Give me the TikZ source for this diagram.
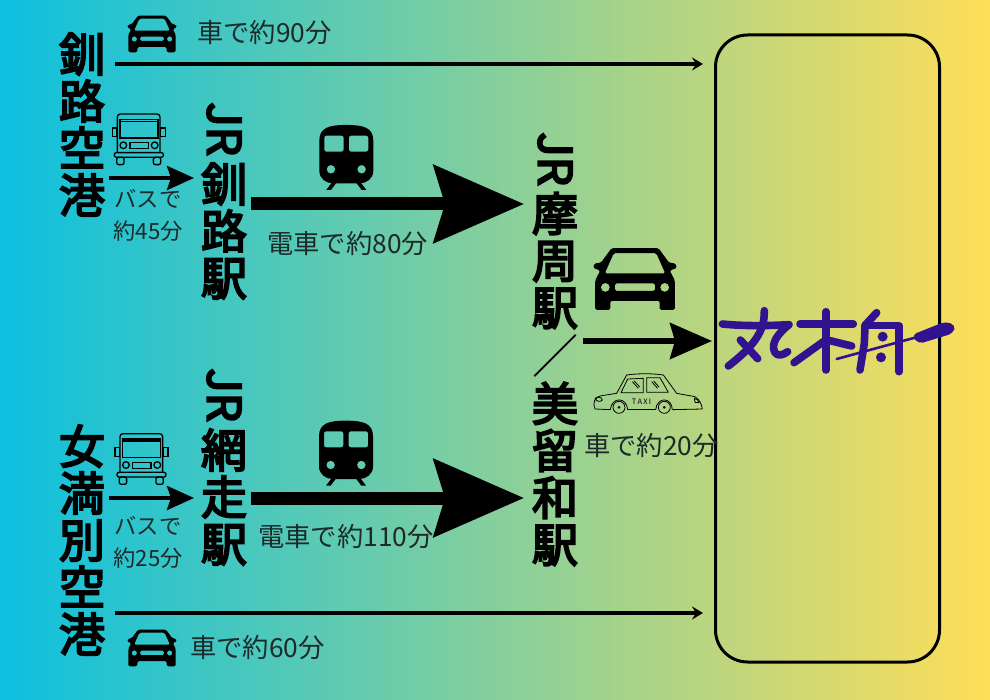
\documentclass[tikz,border=0pt]{standalone}
\usepackage{fontspec}
\usetikzlibrary{arrows.meta}
\newfontfamily\jp{Noto Sans CJK JP}
\newfontfamily\jpm[FakeBold=4.2]{Noto Sans CJK JP}
\definecolor{bgL}{HTML}{0CC0DF}
\definecolor{bgR}{HTML}{FFDE59}
\definecolor{logoc}{HTML}{31128F}
\definecolor{lighttext}{HTML}{1C2A2A}
\newcommand{\bigfont}{\jpm\fontsize{46}{47}\selectfont}
\tikzset{
  place/.style={font=\bigfont,align=center,inner sep=0pt,text=black},
  jrlabel/.style={font=\bigfont,rotate=-90,anchor=west,inner sep=0pt},
  lab/.style={font=\jp\fontsize{26.3}{30}\selectfont,inner sep=0pt,text=lighttext},
  smalllab/.style={font=\jp\fontsize{22.3}{31.5}\selectfont,inner sep=0pt,align=center,text=lighttext},
  longarrow/.style={line width=3.1pt,-{Stealth[length=11pt,width=13pt,inset=4pt]}},
  busarrow/.style={line width=3.8pt,-{Stealth[length=27pt,width=24pt,inset=4pt]}},
  midarrow/.style={line width=5.6pt,-{Stealth[length=42pt,width=36pt,inset=5pt]}},
  mainarrow/.style={line width=13pt,-{Stealth[length=90pt,width=77pt,inset=11pt]}},
  logostroke/.style={draw=logoc,line width=7.6pt,line cap=round,line join=round},
  car/.pic={
    \begin{scope}[scale=1/3]
    \fill[even odd rule,rounded corners=1.5pt]
      (-42,-55) -- (42,-55) -- (61,-29) -- (72,-28) -- (75,-20) -- (62,-15) -- (71,2) -- (71,55) -- (44,55) -- (44,39) -- (-44,39) -- (-44,55) -- (-71,55) -- (-71,2) -- (-62,-15) -- (-75,-20) -- (-72,-28) -- (-61,-29) -- cycle
      (-38,-46) -- (38,-46) -- (54,-10) -- (-54,-10) -- cycle
      (-36,8) rectangle (36,21)
      (-53,15) circle[radius=8] (53,15) circle[radius=8];
    \end{scope}
  },
  train/.pic={
    \begin{scope}[scale=1/3]
    \fill[even odd rule]
      (-81,-50) .. controls (-81,-90) and (-50,-97) .. (0,-97) .. controls (50,-97) and (81,-90) .. (81,-50) -- (81,40) .. controls (81,65) and (60,78) .. (40,78) -- (-40,78) .. controls (-60,78) and (-81,65) .. (-81,40) -- cycle
      [rounded corners=2pt] (-66,-65) rectangle (-8,-17)
      (8,-65) rectangle (66,-17)
      [sharp corners] (-46,36) circle[radius=13] (46,36) circle[radius=13];
    \fill (-42,74) -- (-60,98) -- (-46,98) -- (-28,74) -- cycle
          (42,74) -- (60,98) -- (46,98) -- (28,74) -- cycle;
    \end{scope}
  },
  bus/.pic={
    \begin{scope}[scale=1/3,line width=1.3pt]
    \draw[rounded corners=3pt] (-64,40) -- (-64,-76) -- (64,-76) -- (64,40);
    \draw (-56,-4) rectangle (58,-60);
    \draw (-56,-54) -- (58,-54);
    \draw (-79,-34) rectangle (-66,-8) (66,-34) rectangle (80,-8);
    \draw (-46,18) circle[radius=10] (48,18) circle[radius=10];
    \draw (-26,10) rectangle (29,28);
    \draw[rounded corners=2pt] (-73,40) rectangle (74,54);
    \draw[rounded corners=2pt] (-66,54) rectangle (-44,76) (44,54) rectangle (66,76);
    \end{scope}
  }
}
\begin{document}
\begin{tikzpicture}[x=1pt,y=-1pt]
\useasboundingbox (0,0) rectangle (990,700);
\shade[left color=bgL,right color=bgR] (0,0) rectangle (990,700);

% destination box
\node (goal) [draw,line width=3pt,rounded corners=32pt,minimum width=224pt,minimum height=627pt,inner sep=0pt] at (827.5,348.5) {};

% stations
\node (kushiroap) [place] at (82,124.5) {釧\\路\\空\\港};
\node (memanbetsu) [place] at (82,540) {女\\満\\別\\空\\港};
\node (jrk) [jrlabel] at (224,102) {JR};
\node (kushiro) [place] at (224,231) {釧\\路\\駅};
\node (jra) [jrlabel] at (224,368) {JR};
\node (abashiri) [place] at (224,497) {網\\走\\駅};
\node (jrm) [jrlabel] at (555,132) {JR};
\node (mashu) [place] at (555,260.5) {摩\\周\\駅};
\node (slash) [font=\jp\fontsize{46}{47}\selectfont,inner sep=0pt] at (555,356) {／};
\node (bihoro) [place] at (555,474) {美\\留\\和\\駅};

% connectors
\coordinate (a1) at (115,64); \coordinate (a2) at (703,64);
\coordinate (b1) at (115,613); \coordinate (b2) at (703,613);
\coordinate (c1) at (109,178); \coordinate (c2) at (194,178);
\coordinate (d1) at (109,498); \coordinate (d2) at (194,498);
\coordinate (e1) at (251,204); \coordinate (e2) at (524,204);
\coordinate (f1) at (251,498); \coordinate (f2) at (524,498);
\coordinate (g1) at (583,341); \coordinate (g2) at (712,341);
\draw[longarrow] (a1) -- (a2);
\draw[longarrow] (b1) -- (b2);
\draw[busarrow] (c1) -- (c2);
\draw[busarrow] (d1) -- (d2);
\draw[mainarrow] (e1) -- (e2);
\draw[mainarrow] (f1) -- (f2);
\draw[midarrow] (g1) -- (g2);

% labels
\node (l90) [lab,anchor=west] at (197,33) {車で約90分};
\node (l60) [lab,anchor=west] at (190,648) {車で約60分};
\node (l80) [lab,anchor=west] at (267,244) {電車で約80分};
\node (l110) [lab,anchor=west] at (258,537) {電車で約110分};
\node (l20) [lab,anchor=west] at (584,446) {車で約20分};
\node (l45) [smalllab] at (148,215.5) {バスで\\約45分};
\node (l25) [smalllab] at (148,542.5) {バスで\\約25分};

% icons
\pic at (152,34) {car};
\pic at (152,648) {car};
\pic[scale=1.68] at (635,279) {car};
\pic at (346.3,157.3) {train};
\pic at (346,453) {train};
\pic at (138.7,139.3) {bus};
\pic at (141.3,459) {bus};

% taxi
\begin{scope}[shift={(585,365)},scale=1/3,line width=0.8pt,line join=round]
\draw (30,132) .. controls (22,115) and (28,95) .. (50,92) -- (95,85) -- (125,30) .. controls (160,25) and (200,25) .. (235,30) -- (275,85) -- (330,95) .. controls (345,105) and (350,118) .. (352,132) -- (262,134);
\draw (30,132) -- (76,134);
\draw (128,134) -- (212,134);
\draw (76,134) .. controls (80,95) and (125,95) .. (128,134);
\draw (212,134) .. controls (216,95) and (260,95) .. (262,134);
\draw (102,127) circle[radius=18] (102,127) circle[radius=3];
\draw (238,127) circle[radius=18] (238,127) circle[radius=3];
\draw (108,83) -- (128,42) -- (175,40) -- (175,83) -- cycle;
\draw (185,82) -- (185,38) -- (225,38) -- (250,82) -- cycle;
\draw (142,50) -- (160,70) (148,48) -- (164,66);
\draw (200,50) -- (218,70) (206,48) -- (222,66);
\draw (30,100) .. controls (38,95) and (50,95) .. (52,105) .. controls (45,112) and (35,110) .. (30,100);
\draw (328,100) .. controls (335,100) and (342,108) .. (342,113) -- (330,112) -- cycle;
\end{scope}
\node (taxitext) [font=\jp\fontsize{7.5}{8}\selectfont,inner sep=0pt] at (641.5,401.5) {T\,A\,X\,I};

% logo
\begin{scope}[shift={(715,300)},scale=1/3]
\draw[logostroke] (22,72) .. controls (80,78) and (150,78) .. (222,74) .. controls (190,100) and (165,130) .. (180,158) .. controls (188,170) and (205,165) .. (218,155);
\draw[logostroke] (148,32) .. controls (148,80) and (135,125) .. (40,198);
\draw[logostroke] (76,120) -- (128,176);
\draw[logostroke] (255,72) -- (415,72);
\draw[logostroke] (333,35) -- (333,210);
\draw[logostroke] (325,125) -- (237,188);
\draw[logostroke] (345,122) -- (410,138);
\draw[logostroke] (485,38) -- (450,76) -- (448,130) -- (435,210);
\draw[logostroke] (450,77) -- (552,77) -- (552,215);
\fill[logoc] (503,110) circle[radius=15] (498,172) circle[radius=15];
\draw[logoc,line width=2.6pt,line cap=round] (365,177) -- (600,113);
\fill[logoc,rounded corners=5pt] (590,105) -- (690,65) -- (722,75) -- (715,100) -- (610,132) -- cycle;
\end{scope}
\end{tikzpicture}
\end{document}
